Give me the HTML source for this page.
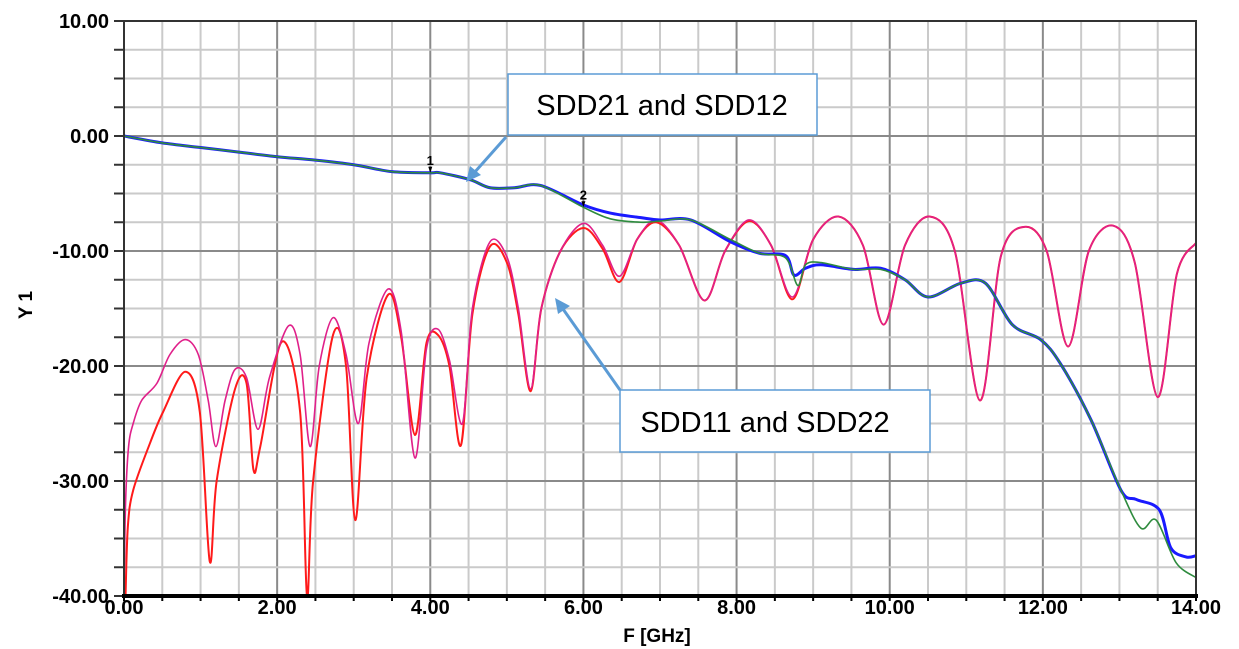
<!DOCTYPE html>
<html><head><meta charset="utf-8">
<style>
html,body{margin:0;padding:0;background:#fff;}
svg{display:block;font-family:"Liberation Sans",Arial,sans-serif;}
</style></head>
<body>
<svg id="chart" width="1239" height="649" viewBox="0 0 1239 649" xmlns="http://www.w3.org/2000/svg">
<g id="grid"></g>
<g id="series"></g>
<g id="axes"></g>
<text x="32" y="305" font-size="19" font-weight="bold" text-anchor="middle" transform="rotate(-90 32 305)">Y 1</text>
<text x="657" y="642" font-size="19" font-weight="bold" text-anchor="middle">F [GHz]</text>
<g>
<line x1="506" y1="137" x2="474" y2="173" stroke="#5b9bd5" stroke-width="3"/>
<polygon points="466,182 470,166 481,175" fill="#5b9bd5"/>
<rect x="508" y="74" width="309" height="61" fill="#fff" stroke="#5b9bd5" stroke-width="1.5"/>
<text x="662" y="115" font-size="29" text-anchor="middle" font-family="'Liberation Sans',sans-serif">SDD21 and SDD12</text>
</g>
<g>
<line x1="620" y1="390" x2="563" y2="309" stroke="#5b9bd5" stroke-width="3"/>
<polygon points="555,298 570,306 558,314" fill="#5b9bd5"/>
<rect x="620" y="390" width="310" height="62" fill="#fff" stroke="#5b9bd5" stroke-width="1.5"/>
<text x="765" y="432" font-size="29" text-anchor="middle" font-family="'Liberation Sans',sans-serif">SDD11 and SDD22</text>
</g>
</svg>
<script>
const xTicks = ["0.00","2.00","4.00","6.00","8.00","10.00","12.00","14.00"];
const yTicks = ["10.00","0.00","-10.00","-20.00","-30.00","-40.00"];
const sdd11Freq = [0,0.02,0.06,0.12,0.23,0.43,0.6,0.8,0.97,1.1,1.2,1.32,1.45,1.6,1.75,1.9,2.15,2.3,2.43,2.55,2.73,2.9,3.06,3.2,3.45,3.62,3.8,3.95,4.1,4.25,4.42,4.55,4.78,5.0,5.15,5.31,5.45,5.7,6.0,6.25,6.47,6.7,6.95,7.25,7.58,7.85,8.16,8.45,8.73,9.0,9.33,9.65,9.92,10.2,10.52,10.85,11.18,11.45,11.76,12.05,12.33,12.6,12.92,13.2,13.5,13.75,14.0];
const sdd11Vals = [-40,-32,-27,-25,-23,-21.5,-19,-17.7,-19,-23,-27,-23,-20.3,-21,-25.5,-21,-16.5,-19,-27,-20,-15.8,-19,-25,-18,-13.3,-17,-28,-18.5,-16.8,-19.5,-25,-15,-9.2,-10.5,-15,-22,-15,-10,-7.6,-9.5,-12.2,-9,-7.3,-9.5,-14.3,-10,-7.3,-9.5,-14,-9,-7.0,-9.5,-16.4,-9.5,-7.0,-10,-23,-10.5,-7.9,-10,-18.3,-10,-7.8,-11,-22.7,-12,-9.3];
const sdd22Freq = [0.02,0.05,0.12,0.34,0.51,0.8,0.99,1.12,1.21,1.45,1.6,1.69,1.78,2.06,2.3,2.39,2.47,2.73,2.9,3.02,3.17,3.45,3.62,3.8,3.95,4.1,4.25,4.4,4.55,4.78,5.0,5.15,5.31,5.45,5.7,6.0,6.25,6.47,6.7,6.95,7.25,7.58,7.85,8.16,8.45,8.73,9.0,9.33,9.65,9.92,10.2,10.52,10.85,11.18,11.45,11.76,12.05,12.33,12.6,12.92,13.2,13.5,13.75,14.0];
const sdd22Vals = [-40,-34,-30.8,-26.7,-24,-20.5,-24,-37,-30,-22,-21.5,-29,-27,-17.9,-24,-40,-30,-17.3,-20,-33.4,-21,-13.8,-17.5,-26,-18,-17.3,-20,-26.9,-15.5,-9.6,-11,-15.5,-22.2,-15,-10,-8,-9.8,-12.7,-9,-7.5,-9.5,-14.3,-10,-7.4,-9.5,-14.2,-9,-7.0,-9.5,-16.4,-9.5,-7.0,-10,-23,-10.5,-7.9,-10,-18.3,-10,-7.8,-11,-22.7,-12,-9.3];
const sdd21Freq = [0,0.5,1,1.5,2,2.5,3,3.5,4,4.13,4.52,4.78,5.1,5.44,6.0,6.35,6.75,7.0,7.4,7.92,8.3,8.64,8.8,8.9,9.1,9.53,9.88,10.2,10.5,10.93,11.25,11.6,11.97,12.23,12.63,13.02,13.28,13.48,13.74,14.0];
const sdd21Vals = [0,-0.6,-1,-1.4,-1.8,-2.1,-2.5,-3.1,-3.2,-3.2,-3.8,-4.5,-4.5,-4.3,-6.2,-7.2,-7.5,-7.4,-7.3,-9,-10.2,-10.6,-13,-11.2,-11,-11.6,-11.6,-12.5,-14,-12.8,-12.8,-16.4,-17.7,-19.8,-24.7,-30.8,-34.1,-33.4,-37.1,-38.4];
const sdd12Freq = [0,0.5,1,1.5,2,2.5,3,3.5,4,4.13,4.52,4.78,5.1,5.44,6.0,6.35,6.75,7.0,7.4,7.92,8.3,8.64,8.75,8.9,9.1,9.53,9.88,10.2,10.5,10.93,11.25,11.6,11.97,12.23,12.63,13.02,13.22,13.52,13.67,13.87,14.0];
const sdd12Vals = [0,-0.6,-1,-1.4,-1.8,-2.1,-2.5,-3.1,-3.2,-3.2,-3.8,-4.5,-4.5,-4.3,-6.0,-6.7,-7.1,-7.3,-7.3,-9.2,-10.2,-10.4,-12.1,-11.5,-11.2,-11.6,-11.5,-12.5,-14,-12.8,-12.8,-16.4,-17.7,-19.8,-24.7,-30.8,-31.6,-32.5,-35.8,-36.6,-36.5];
const markerFreq = [4.0, 6.0];
const markerVals = [-3.2, -6.2];
const markerLabels = ["1","2"];

const NS = "http://www.w3.org/2000/svg";
const L = 124, R = 1196, T = 21, B = 596;
const xMin = 0, xMax = 14, yMin = -40, yMax = 10;
function sx(v){ return L + (v - xMin) / (xMax - xMin) * (R - L); }
function sy(v){ return T + (yMax - v) / (yMax - yMin) * (B - T); }
function mk(tag, attrs, parent){
  const e = document.createElementNS(NS, tag);
  for (const k in attrs) e.setAttribute(k, attrs[k]);
  parent.appendChild(e); return e;
}
const grid = document.getElementById('grid');
const axes = document.getElementById('axes');
const series = document.getElementById('series');

for (let f = 0; f <= 14.001; f += 0.5) {
  const major = Math.abs(f / 2 - Math.round(f / 2)) < 1e-6;
  const ln = mk('line', {x1: sx(f), x2: sx(f), y1: T, y2: B, stroke: major ? '#8a8a8a' : '#cacaca', 'stroke-width': 2}, grid);
  
  
  const tk = mk('line', {x1: sx(f), x2: sx(f), y1: B, y2: B + 5, stroke: '#000', 'stroke-width': 2}, axes);
  
  
}
for (let d = -40; d <= 10.001; d += 2.5) {
  const major = Math.abs(d / 10 - Math.round(d / 10)) < 1e-6;
  const ln = mk('line', {x1: L, x2: R, y1: sy(d), y2: sy(d), stroke: major ? '#8a8a8a' : '#cacaca', 'stroke-width': 2}, grid);
  
  
  const tk = mk('line', {x1: L - 10, x2: L, y1: sy(d), y2: sy(d), stroke: '#333', 'stroke-width': 2}, axes);
  
  
}
xTicks.forEach(function(lbl){
  const t = mk('text', {x: sx(parseFloat(lbl)), y: 614, 'font-size': 20, 'font-weight': 'bold', 'text-anchor': 'middle'}, axes);
  t.textContent = lbl;
  
  
});
yTicks.forEach(function(lbl){
  const t = mk('text', {x: 109, y: sy(parseFloat(lbl)) + 7, 'font-size': 20, 'font-weight': 'bold', 'text-anchor': 'end'}, axes);
  t.textContent = lbl;
  
  
});
const fr = mk('rect', {x: L, y: T, width: R - L, height: B - T, fill: 'none', stroke: '#333', 'stroke-width': 2}, axes);


const bl = mk('line', {x1: L - 2, x2: R + 2, y1: B, y2: B, stroke: '#000', 'stroke-width': 4}, axes);



function pathFor(xs, ys){
  const n = Math.min(xs.length, ys.length);
  const p = [];
  for (let i = 0; i < n; i++) p.push([sx(xs[i]), sy(ys[i])]);
  let d = 'M' + p[0][0] + ',' + p[0][1];
  for (let i = 0; i < n - 1; i++) {
    const p0 = p[Math.max(0, i - 1)], p1 = p[i], p2 = p[i + 1], p3 = p[Math.min(n - 1, i + 2)];
    const k = 0.16;
    const c1x = p1[0] + (p2[0] - p0[0]) * k, c1y = p1[1] + (p2[1] - p0[1]) * k;
    const c2x = p2[0] - (p3[0] - p1[0]) * k, c2y = p2[1] - (p3[1] - p1[1]) * k;
    d += ' C' + c1x + ',' + c1y + ' ' + c2x + ',' + c2y + ' ' + p2[0] + ',' + p2[1];
  }
  return d;
}
const s2 = mk('path', {d: pathFor(sdd22Freq, sdd22Vals), fill: 'none', stroke: '#ff1a1a', 'stroke-width': 2}, series);


const s1 = mk('path', {d: pathFor(sdd11Freq, sdd11Vals), fill: 'none', stroke: '#e0208a', 'stroke-width': 1.6}, series);


const s4 = mk('path', {d: pathFor(sdd12Freq, sdd12Vals), fill: 'none', stroke: '#1a1aff', 'stroke-width': 3}, series);


const s3 = mk('path', {d: pathFor(sdd21Freq, sdd21Vals), fill: 'none', stroke: '#2e8b3e', 'stroke-width': 1.6}, series);



markerFreq.forEach(function(f, i){
  const x = sx(f), y = sy(markerVals[i]);
  const m = mk('polygon', {points: (x - 2) + ',' + (y - 6) + ' ' + (x + 2) + ',' + (y - 6) + ' ' + x + ',' + y, fill: '#000'}, series);
  
  
  const t = mk('text', {x: x, y: y - 8, 'font-size': 13, 'font-weight': 'bold', 'text-anchor': 'middle'}, series);
  t.textContent = markerLabels[i];
  
  
});
</script>
</body></html>
